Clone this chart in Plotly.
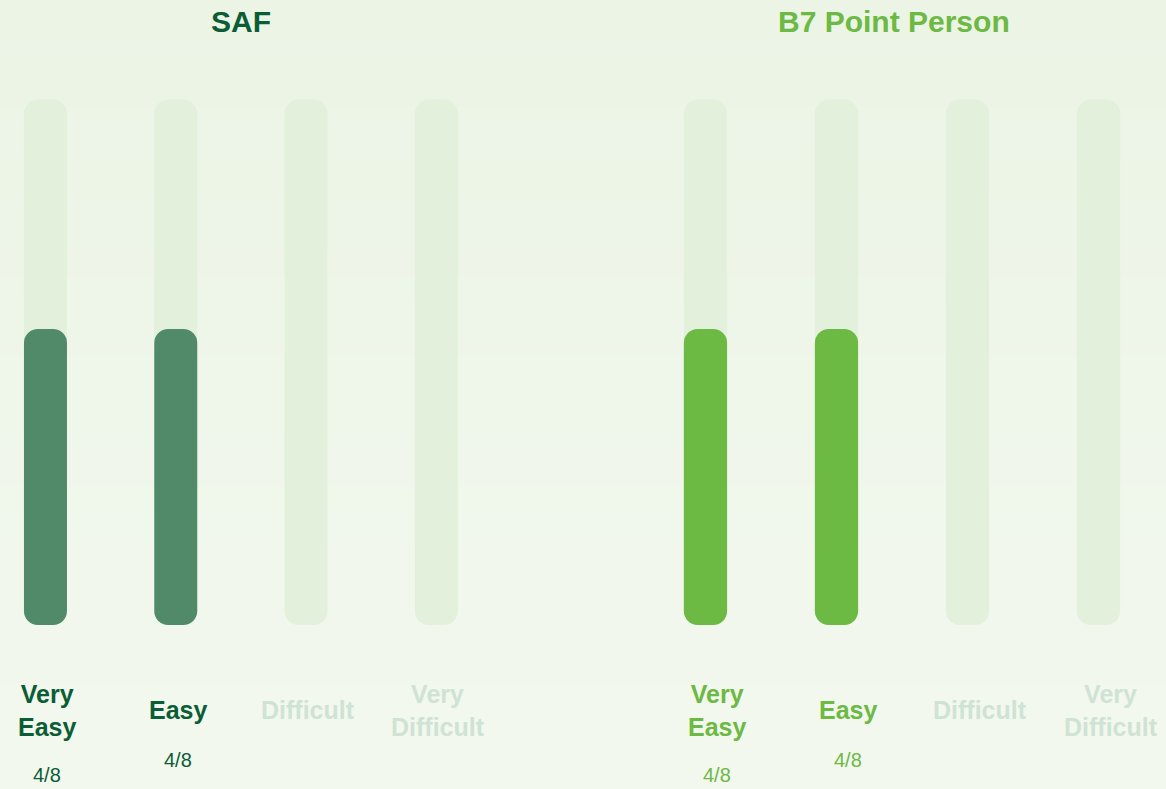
import plotly.graph_objects as go

# ---- data ----
categories = ["Very Easy", "Easy", "Difficult", "Very Difficult"]
category_labels = ["Very<br>Easy", "Easy", "Difficult", "Very<br>Difficult"]
saf_counts = [4, 4, 0, 0]
b7_counts = [4, 4, 0, 0]
total_respondents = 8
track_scale = 7.1  # height of the light background track on the value scale

panels = [
    {"name": "SAF", "counts": saf_counts, "xaxis": "x", "yaxis": "y",
     "color": "#0b5d35", "bar": "#518a69", "label_shift": 2, "title_shift": 0},
    {"name": "B7 Point Person", "counts": b7_counts, "xaxis": "x2", "yaxis": "y2",
     "color": "#6cb943", "bar": "#6cb943", "label_shift": 12, "title_shift": -8},
]

W, H = 1166, 789
TOP, BOTTOM = 33, 164
PLOT_H = H - TOP - BOTTOM
TRACK = "#e3f0dc"
INACTIVE = "#cfe3d5"
FONT = "Liberation Sans, Arial, sans-serif"


def py(p):
    """pixel row -> paper y"""
    return (H - BOTTOM - p) / PLOT_H


def pill(fig, values, color, xaxis, yaxis):
    """Bar with an explicit base -> plotly rounds both ends."""
    fig.add_trace(go.Bar(
        x=categories, y=values, base=[0] * len(values),
        xaxis=xaxis, yaxis=yaxis, width=0.33,
        marker=dict(color=color, line=dict(width=0)),
        hoverinfo="skip", showlegend=False,
    ))


fig = go.Figure()
annotations = []
for pnl in panels:
    pill(fig, [track_scale] * len(categories), TRACK, pnl["xaxis"], pnl["yaxis"])
    pill(fig, pnl["counts"], pnl["bar"], pnl["xaxis"], pnl["yaxis"])
    xref = pnl["xaxis"]
    annotations.append(dict(
        text=f"<b>{pnl['name']}</b>", x=1.5, xref=xref, y=py(22), yref="paper",
        xshift=pnl["title_shift"], showarrow=False,
        font=dict(size=30, color=pnl["color"], family=FONT),
        xanchor="center", yanchor="middle",
    ))
    for i, (lab, cnt) in enumerate(zip(category_labels, pnl["counts"])):
        active = cnt > 0
        annotations.append(dict(
            text=f"<b>{lab}</b>", x=categories[i], xref=xref, y=py(710), yref="paper",
            xshift=pnl["label_shift"], showarrow=False,
            font=dict(size=25, color=pnl["color"] if active else INACTIVE, family=FONT),
            xanchor="center", yanchor="middle", align="center",
        ))
        if active:
            nlines = lab.count("<br>") + 1
            annotations.append(dict(
                text=f"{cnt}/{total_respondents}", x=categories[i], xref=xref,
                y=py(745 + 15 * nlines), yref="paper",
                xshift=pnl["label_shift"], showarrow=False,
                font=dict(size=20, color=pnl["color"], family=FONT),
                xanchor="center", yanchor="middle",
            ))

# background vertical gradient
shapes = []
n = 60
c0 = (235, 244, 229)
c1 = (243, 248, 239)
for k in range(n):
    t = k / (n - 1)
    c = tuple(round(a + (b - a) * t) for a, b in zip(c0, c1))
    p0 = H * k / n
    p1 = H * (k + 1) / n + 1
    shapes.append(dict(type="rect", xref="paper", yref="paper", layer="below",
                       x0=-0.01, x1=1.01, y0=py(p1), y1=py(p0),
                       fillcolor=f"rgb{c}", line=dict(width=0)))

axis_common = dict(showgrid=False, zeroline=False, showticklabels=False,
                   showline=False, ticks="", fixedrange=True)
fig.update_layout(
    width=W, height=H,
    margin=dict(l=0, r=0, t=TOP, b=BOTTOM),
    paper_bgcolor="rgb(239,246,234)", plot_bgcolor="rgba(0,0,0,0)",
    barmode="overlay", barcornerradius=14,
    xaxis=dict(domain=[0, 560 / W], range=[-0.349, 3.949], type="category",
               categoryorder="array", categoryarray=categories, **axis_common),
    xaxis2=dict(domain=[600 / W, 1], range=[-0.805, 3.515], type="category",
                categoryorder="array", categoryarray=categories, anchor="y2", **axis_common),
    yaxis=dict(range=[0, PLOT_H / 74], **axis_common),
    yaxis2=dict(range=[0, PLOT_H / 74], anchor="x2", **axis_common),
    annotations=annotations, shapes=shapes,
    font=dict(family=FONT),
)

fig.write_html(
    "out.html",
    config={"displayModeBar": False},
    post_script="document.body.style.margin='0';document.body.style.overflow='hidden';",
)
